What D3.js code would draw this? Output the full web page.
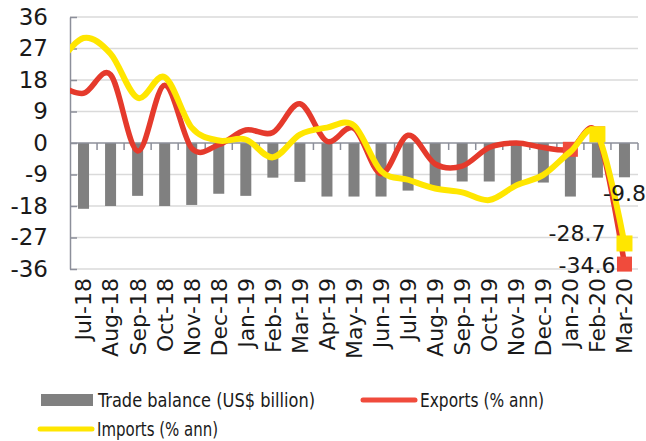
<!DOCTYPE html>
<html>
<head>
<meta charset="utf-8">
<script src="https://cdn.jsdelivr.net/npm/d3@7"></script>
<style>
  html, body { margin: 0; padding: 0; background: #fff; }
  svg { display: block; }
</style>
</head>
<body>
<script>
// Chart data
const months = ['Jul-18', 'Aug-18', 'Sep-18', 'Oct-18', 'Nov-18', 'Dec-18', 'Jan-19',
  'Feb-19', 'Mar-19', 'Apr-19', 'May-19', 'Jun-19', 'Jul-19', 'Aug-19', 'Sep-19',
  'Oct-19', 'Nov-19', 'Dec-19', 'Jan-20', 'Feb-20', 'Mar-20'];

// Trade balance (US$ billion)
const tradeBalance = [-18.8, -18.0, -15.1, -18.0, -17.7, -14.5, -15.1, -9.9, -11.1, -15.3,
  -15.3, -15.3, -13.6, -12.9, -11.0, -11.0, -12.2, -11.3, -15.3, -9.9, -9.8];

// The lines start one month earlier (Jun-18); that point sits left of the axis and is clipped
const leadMonth = 'Jun-18';
const exportsPct = [17.0, 14.2, 19.5, -2.3, 16.5, -1.5, -0.5, 3.7, 3.0, 11.2, 0.5,
  4.2, -8.8, 2.2, -6.0, -6.6, -1.3, 0.0, -1.3, -1.8, 2.6, -34.6];
const importsPct = [22.0, 30.0, 25.5, 12.9, 18.8, 4.4, 0.7, 1.0, -4.1, 2.4, 4.4,
  5.0, -8.0, -10.5, -13.0, -14.1, -16.3, -12.1, -9.1, -2.5, 2.5, -28.7];

const yTicks = [36, 27, 18, 9, 0, -9, -18, -27, -36];

// Months that carry square markers
const exportMarkers = ['Jan-20', 'Feb-20', 'Mar-20'];
const importMarkers = ['Feb-20', 'Mar-20'];

// Layout
const WIDTH = 646;
const HEIGHT = 441;
const PLOT = {left: 70, right: 638, top: 17, bottom: 269};
const RED = '#e53a2c';
const RED_LIGHT = '#f04b3c';
const YELLOW = '#ffe600';
const GREY = '#808080';
const NUM_FONT = '"DejaVu Sans", Verdana, sans-serif';
const LEG_FONT = '"DejaVu Sans Condensed", "Liberation Sans Narrow", "DejaVu Sans", sans-serif';

const svg = d3.select('body')
  .append('svg')
  .attr('width', WIDTH)
  .attr('height', HEIGHT);

// Scales
const x = d3.scaleBand()
  .domain(months)
  .range([PLOT.left, PLOT.right]);
const bw = x.bandwidth();

const lineMonths = [leadMonth].concat(months);
const xLine = d3.scaleBand()
  .domain(lineMonths)
  .range([PLOT.left - bw, PLOT.right]);
const cx = m => xLine(m) + xLine.bandwidth() / 2;

const y = d3.scaleLinear()
  .domain([-36, 36])
  .range([PLOT.bottom, PLOT.top]);

// Gridlines
svg.append('g')
  .selectAll('line')
  .data(yTicks.filter(d => d !== 0))
  .enter().append('line')
  .attr('x1', PLOT.left)
  .attr('x2', PLOT.right)
  .attr('y1', d => y(d))
  .attr('y2', d => y(d))
  .style('stroke', '#dadada')
  .style('stroke-width', 1.5);

// Y axis
const yAxis = d3.axisLeft(y)
  .tickValues(yTicks)
  .tickFormat(d => String(d))
  .tickSizeInner(-7)
  .tickSizeOuter(0)
  .tickPadding(22);
const gy = svg.append('g')
  .attr('transform', 'translate(' + PLOT.left + ',0)')
  .call(yAxis);
gy.select('.domain').style('stroke', '#8c8f9a').style('stroke-width', 1.5);
gy.selectAll('.tick line').style('stroke', '#8c8f9a').style('stroke-width', 1.5);
gy.selectAll('.tick text')
  .style('font-family', NUM_FONT)
  .style('font-size', '23px')
  .style('fill', '#1a1a1a');

// Bars
svg.append('g')
  .selectAll('rect')
  .data(months)
  .enter().append('rect')
  .attr('x', (m, i) => x(m) + bw / 2 - 5.5)
  .attr('width', 11)
  .attr('y', (m, i) => y(Math.max(0, tradeBalance[i])))
  .attr('height', (m, i) => Math.abs(y(tradeBalance[i]) - y(0)))
  .style('fill', GREY);

// Zero line with category ticks
const gx0 = svg.append('g');
gx0.append('line')
  .attr('x1', PLOT.left)
  .attr('x2', PLOT.right)
  .attr('y1', y(0))
  .attr('y2', y(0))
  .style('stroke', '#8c8f9a')
  .style('stroke-width', 1.5);
gx0.selectAll('.cat-tick')
  .data(months.slice(1).map(m => x(m)).concat([PLOT.right]))
  .enter().append('line')
  .attr('class', 'cat-tick')
  .attr('x1', d => d)
  .attr('x2', d => d)
  .attr('y1', y(0))
  .attr('y2', y(0) + 7)
  .style('stroke', '#8c8f9a')
  .style('stroke-width', 1.5);

// Category labels
const gx = svg.append('g')
  .attr('transform', 'translate(0,' + PLOT.bottom + ')')
  .call(d3.axisBottom(x).tickSize(0));
gx.select('.domain').remove();
gx.selectAll('.tick text')
  .attr('transform', 'rotate(-90)')
  .attr('x', -9)
  .attr('y', 0)
  .attr('dy', '0.36em')
  .attr('text-anchor', 'end')
  .style('font-family', NUM_FONT)
  .style('font-size', '22px')
  .style('fill', '#1a1a1a');

// Lines
svg.append('defs').append('clipPath')
  .attr('id', 'plot-clip')
  .append('rect')
  .attr('x', PLOT.left)
  .attr('y', 0)
  .attr('width', PLOT.right - PLOT.left + 10)
  .attr('height', HEIGHT);

const line = d3.line()
  .x(d => cx(d.m))
  .y(d => y(d.v))
  .curve(d3.curveCatmullRom.alpha(0));

const exportsData = lineMonths.map((m, i) => ({m: m, v: exportsPct[i]}));
const importsData = lineMonths.map((m, i) => ({m: m, v: importsPct[i]}));

svg.append('path')
  .datum(exportsData)
  .attr('clip-path', 'url(#plot-clip)')
  .attr('d', line)
  .style('fill', 'none')
  .style('stroke', RED)
  .style('stroke-width', 5.5)
  .style('stroke-linejoin', 'round');

svg.append('g')
  .selectAll('rect')
  .data(exportsData.filter(d => exportMarkers.includes(d.m)))
  .enter().append('rect')
  .attr('x', d => cx(d.m) - 7.5)
  .attr('y', d => y(d.v) - 7.5)
  .attr('width', 15)
  .attr('height', 15)
  .style('fill', RED_LIGHT);

svg.append('path')
  .datum(importsData)
  .attr('clip-path', 'url(#plot-clip)')
  .attr('d', line)
  .style('fill', 'none')
  .style('stroke', YELLOW)
  .style('stroke-width', 6)
  .style('stroke-linejoin', 'round');

svg.append('g')
  .selectAll('rect')
  .data(importsData.filter(d => importMarkers.includes(d.m)))
  .enter().append('rect')
  .attr('x', d => cx(d.m) - 8)
  .attr('y', d => y(d.v) - 8)
  .attr('width', 16)
  .attr('height', 16)
  .style('fill', YELLOW);

// Data labels for the last month
const last = months.length - 1;
const lastM = months[last];
const labels = svg.append('g')
  .style('font-family', NUM_FONT)
  .style('font-size', '22px')
  .style('fill', '#1a1a1a');
labels.append('text')
  .attr('x', cx(lastM))
  .attr('y', y(tradeBalance[last]) + 24)
  .attr('text-anchor', 'middle')
  .text(String(tradeBalance[last]));
labels.append('text')
  .attr('x', cx(lastM) - 19)
  .attr('y', y(importsPct[importsPct.length - 1]) - 2)
  .attr('text-anchor', 'end')
  .text(String(importsPct[importsPct.length - 1]));
labels.append('text')
  .attr('x', cx(lastM) - 9)
  .attr('y', y(exportsPct[exportsPct.length - 1]) + 9)
  .attr('text-anchor', 'end')
  .text(String(exportsPct[exportsPct.length - 1]));

// Legend (text squeezed to the narrow face of the original)
const legendItems = [
  {label: 'Trade balance (US$ billion)', kind: 'bar', color: GREY, x: 41, y: 400, w: 217},
  {label: 'Exports (% ann)', kind: 'line', color: RED_LIGHT, x: 361, y: 400, w: 124},
  {label: 'Imports (% ann)', kind: 'line', color: YELLOW, x: 38, y: 429, w: 121}
];

const legend = svg.append('g').attr('class', 'legend');
legendItems.forEach(function(d) {
  const g = legend.append('g').attr('transform', 'translate(' + d.x + ',' + d.y + ')');
  if (d.kind === 'bar') {
    g.append('rect')
      .attr('x', 0)
      .attr('y', -6)
      .attr('width', 52)
      .attr('height', 12)
      .style('fill', d.color);
  } else {
    g.append('line')
      .attr('x1', 2)
      .attr('x2', 54)
      .attr('y1', 0)
      .attr('y2', 0)
      .style('stroke', d.color)
      .style('stroke-width', 5)
      .style('stroke-linecap', 'round');
  }
  g.append('text')
    .attr('x', d.kind === 'bar' ? 57 : 59)
    .attr('y', 7)
    .attr('textLength', d.w)
    .attr('lengthAdjust', 'spacingAndGlyphs')
    .style('font-family', LEG_FONT)
    .style('font-size', '20px')
    .style('fill', '#1a1a1a')
    .text(d.label);
});
</script>
</body>
</html>
